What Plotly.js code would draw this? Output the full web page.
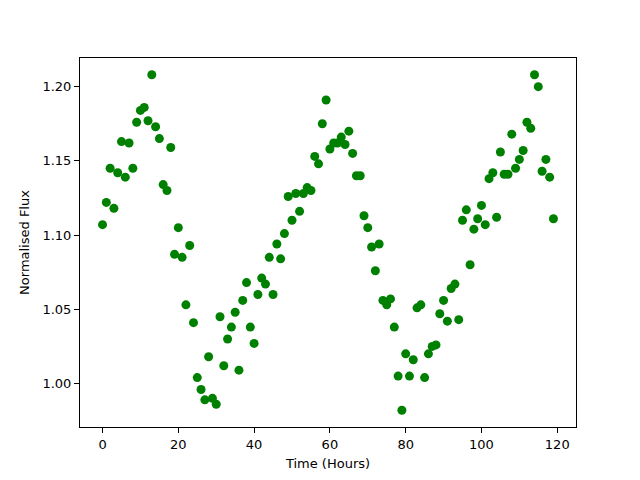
<!DOCTYPE html>
<html>
<head>
<meta charset="utf-8">
<script src="https://cdn.plot.ly/plotly-3.0.1.min.js"></script>
<style>html,body{margin:0;padding:0;background:#fff;}#plot{width:640px;height:480px;}</style>
</head>
<body>
<div id="plot"></div>
<script>
const timeHours = [];
for (let i = 0; i < 120; i++) timeHours.push(i);
const flux = [
1.107,1.122,1.145,1.118,1.142,1.163,1.139,1.162,1.145,1.176,
1.184,1.186,1.177,1.208,1.173,1.165,1.134,1.130,1.159,1.087,
1.105,1.085,1.053,1.093,1.041,1.004,0.996,0.989,1.018,0.990,
0.986,1.045,1.012,1.030,1.038,1.048,1.009,1.056,1.068,1.038,
1.027,1.060,1.071,1.067,1.085,1.060,1.094,1.084,1.101,1.126,
1.110,1.128,1.116,1.128,1.132,1.130,1.153,1.148,1.175,1.191,
1.158,1.162,1.162,1.166,1.161,1.170,1.155,1.140,1.140,1.113,
1.105,1.092,1.076,1.094,1.056,1.053,1.057,1.038,1.005,0.982,
1.020,1.005,1.016,1.051,1.053,1.004,1.020,1.025,1.026,1.047,
1.056,1.042,1.064,1.067,1.043,1.110,1.117,1.080,1.104,1.111,
1.120,1.107,1.138,1.142,1.112,1.156,1.141,1.141,1.168,1.145,
1.151,1.157,1.176,1.172,1.208,1.200,1.143,1.151,1.139,1.111
];
const xTitle = "Time (Hours)";
const yTitle = "Normalised Flux";

const font = {family: "DejaVu Sans, sans-serif", size: 13, color: "#000"};
const axisCommon = {
  showline: true, linecolor: "#000", linewidth: 1, mirror: true,
  ticks: "outside", ticklen: 5, tickwidth: 1, tickcolor: "#000",
  showgrid: false, zeroline: false, tickfont: font
};
Plotly.newPlot("plot", [{
  x: timeHours, y: flux, type: "scatter", mode: "markers",
  marker: {color: "#008000", size: 9}
}], {
  width: 640, height: 480,
  margin: {l: 80, r: 64, t: 58, b: 53},
  paper_bgcolor: "#fff", plot_bgcolor: "#fff",
  font: font, showlegend: false,
  xaxis: Object.assign({}, axisCommon, {
    range: [-5.95, 124.95], tickvals: [0,20,40,60,80,100,120],
    title: {text: xTitle, font: font, standoff: 8}
  }),
  yaxis: Object.assign({}, axisCommon, {
    range: [0.9707, 1.2193], tickvals: [1.00,1.05,1.10,1.15,1.20], tickformat: ".2f",
    title: {text: yTitle, font: font, standoff: 9}
  })
}, {staticPlot: true});
</script>
</body>
</html>
